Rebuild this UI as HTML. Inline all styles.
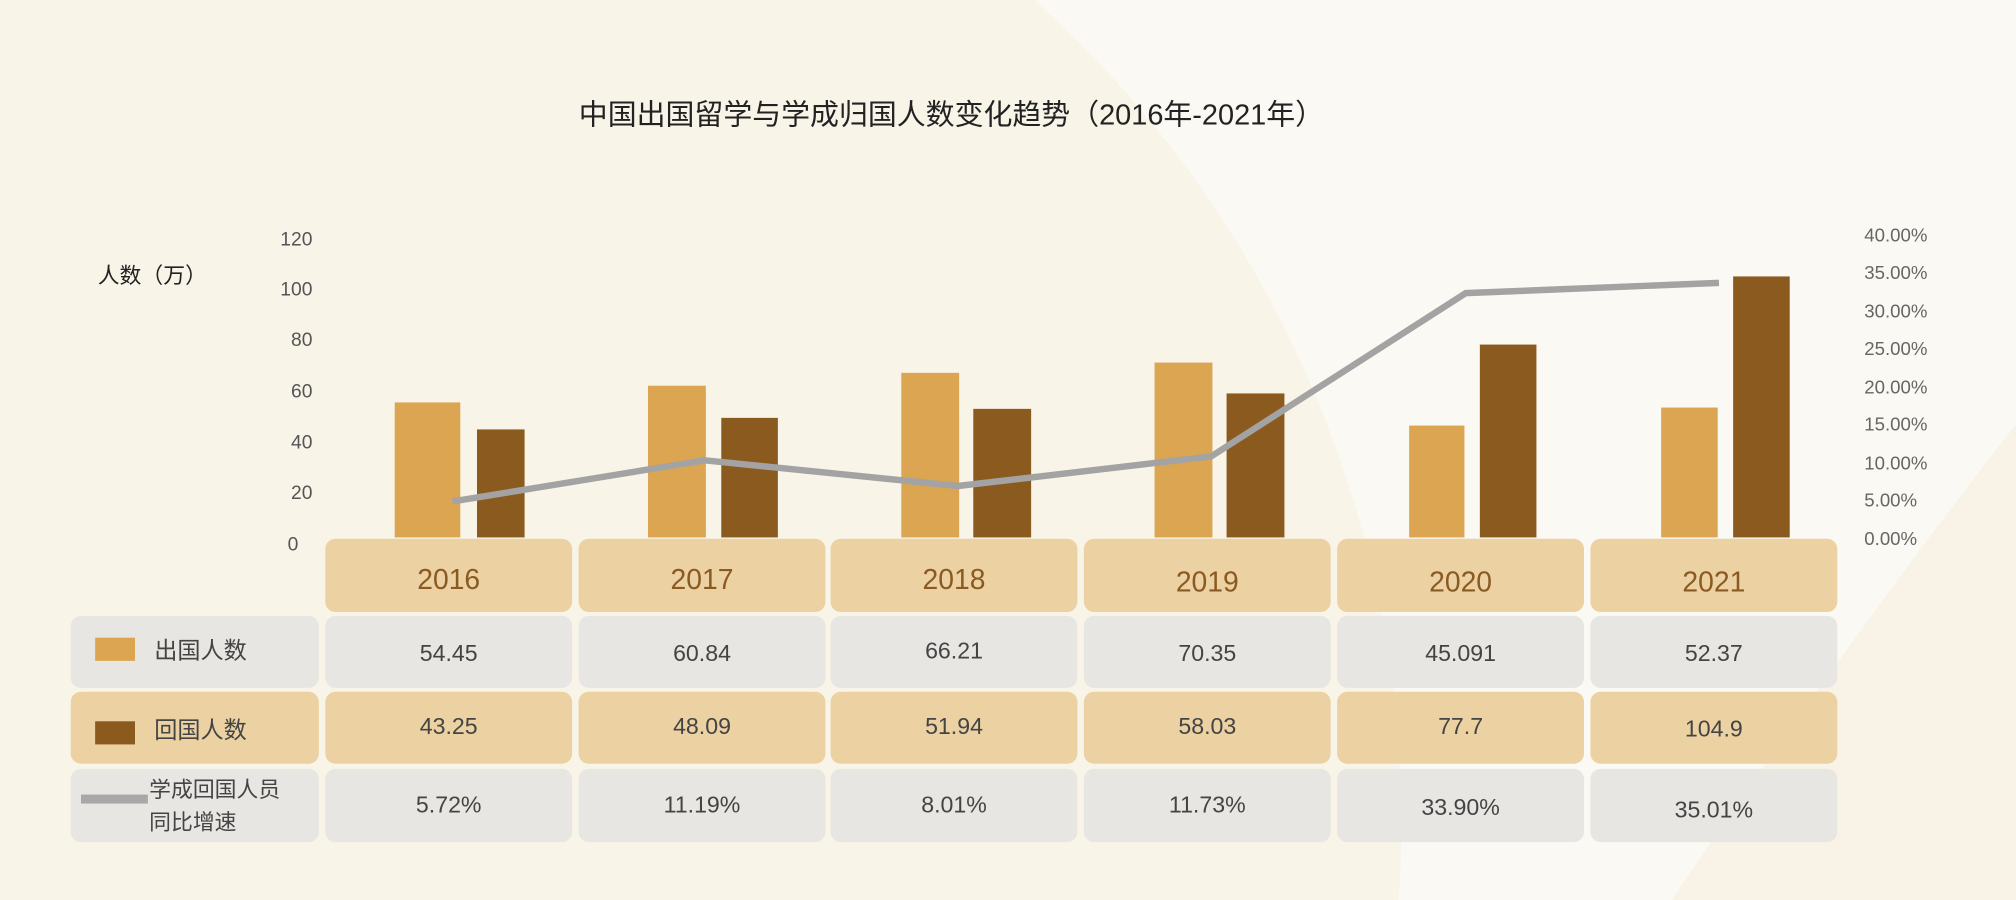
<!DOCTYPE html>
<html><head><meta charset="utf-8"><style>
html,body{margin:0;padding:0;background:#f8f4e8;width:2016px;height:900px;overflow:hidden;}
svg{display:block}
text{font-family:"Liberation Sans","Noto Sans CJK SC",sans-serif;}
</style></head><body>
<svg width="2016" height="900" viewBox="0 0 1568 700" xmlns="http://www.w3.org/2000/svg">
<rect width="1568" height="700" fill="#fbf9f3"/>
<circle cx="230" cy="640" r="860" fill="#f8f4e8"/>
<path d="M1300 700 Q1450 480 1568 330 L1568 700 Z" fill="#f8f3e6"/>
<text x="740" y="97" font-size="22.5" fill="#222" text-anchor="middle">中国出国留学与学成归国人数变化趋势（2016年-2021年）</text>
<text x="76" y="220" font-size="17" fill="#222">人数（万）</text>
<g font-size="15" fill="#555" text-anchor="end">
<text x="243" y="191">120</text><text x="243" y="230">100</text><text x="243" y="269">80</text>
<text x="243" y="309">60</text><text x="243" y="349">40</text><text x="243" y="388">20</text><text x="232" y="428">0</text>
</g>
<g font-size="14.5" fill="#666">
<text x="1450" y="188">40.00%</text><text x="1450" y="217">35.00%</text><text x="1450" y="247">30.00%</text>
<text x="1450" y="276">25.00%</text><text x="1450" y="306">20.00%</text><text x="1450" y="335">15.00%</text>
<text x="1450" y="365">10.00%</text><text x="1450" y="394">5.00%</text><text x="1450" y="424">0.00%</text>
</g>
<g fill="#dca552">
<rect x="307" y="313" width="51" height="105"/>
<rect x="504" y="300" width="45" height="118"/>
<rect x="701" y="290" width="45" height="128"/>
<rect x="898" y="282" width="45" height="136"/>
<rect x="1096" y="331" width="43" height="87"/>
<rect x="1292" y="317" width="44" height="101"/>
</g>
<g fill="#8b5a1f">
<rect x="371" y="334" width="37" height="84"/>
<rect x="561" y="325" width="44" height="93"/>
<rect x="757" y="318" width="45" height="100"/>
<rect x="954" y="306" width="45" height="112"/>
<rect x="1151" y="268" width="44" height="150"/>
<rect x="1348" y="215" width="44" height="203"/>
</g>
<polyline points="352,390 548,358 745,378 942,355 1140,228 1337,220" fill="none" stroke="#a3a3a3" stroke-width="5" stroke-linejoin="round"/>
<g>
<rect x="253" y="419" width="192" height="57" rx="8" fill="#ecd1a2"/>
<rect x="450" y="419" width="192" height="57" rx="8" fill="#ecd1a2"/>
<rect x="646" y="419" width="192" height="57" rx="8" fill="#ecd1a2"/>
<rect x="843" y="419" width="192" height="57" rx="8" fill="#ecd1a2"/>
<rect x="1040" y="419" width="192" height="57" rx="8" fill="#ecd1a2"/>
<rect x="1237" y="419" width="192" height="57" rx="8" fill="#ecd1a2"/>
</g>
<g font-size="22" fill="#8a5a22" text-anchor="middle">
<text x="349" y="458">2016</text><text x="546" y="458">2017</text><text x="742" y="458">2018</text>
<text x="939" y="460">2019</text><text x="1136" y="460">2020</text><text x="1333" y="460">2021</text>
</g>
<g fill="#e8e6e2">
<rect x="55" y="479" width="193" height="56" rx="8"/>
<rect x="253" y="479" width="192" height="56" rx="8"/><rect x="450" y="479" width="192" height="56" rx="8"/>
<rect x="646" y="479" width="192" height="56" rx="8"/><rect x="843" y="479" width="192" height="56" rx="8"/>
<rect x="1040" y="479" width="192" height="56" rx="8"/><rect x="1237" y="479" width="192" height="56" rx="8"/>
<rect x="55" y="598" width="193" height="57" rx="8"/>
<rect x="253" y="598" width="192" height="57" rx="8"/><rect x="450" y="598" width="192" height="57" rx="8"/>
<rect x="646" y="598" width="192" height="57" rx="8"/><rect x="843" y="598" width="192" height="57" rx="8"/>
<rect x="1040" y="598" width="192" height="57" rx="8"/><rect x="1237" y="598" width="192" height="57" rx="8"/>
</g>
<g fill="#ecd1a2">
<rect x="55" y="538" width="193" height="56" rx="8"/>
<rect x="253" y="538" width="192" height="56" rx="8"/><rect x="450" y="538" width="192" height="56" rx="8"/>
<rect x="646" y="538" width="192" height="56" rx="8"/><rect x="843" y="538" width="192" height="56" rx="8"/>
<rect x="1040" y="538" width="192" height="56" rx="8"/><rect x="1237" y="538" width="192" height="56" rx="8"/>
</g>
<rect x="74" y="496" width="31" height="18" fill="#dca552"/>
<rect x="74" y="561" width="31" height="18" fill="#8b5a1f"/>
<rect x="63" y="618" width="52" height="7" fill="#a8a8a8"/>
<g font-size="18" fill="#444">
<text x="120" y="512">出国人数</text>
<text x="120" y="574">回国人数</text>
<text x="116" y="620" font-size="17">学成回国人员</text>
<text x="116" y="645" font-size="17">同比增速</text>
</g>
<g font-size="18" fill="#444" text-anchor="middle">
<text x="349" y="514">54.45</text><text x="546" y="514">60.84</text><text x="742" y="512">66.21</text>
<text x="939" y="514">70.35</text><text x="1136" y="514">45.091</text><text x="1333" y="514">52.37</text>
<text x="349" y="571">43.25</text><text x="546" y="571">48.09</text><text x="742" y="571">51.94</text>
<text x="939" y="571">58.03</text><text x="1136" y="571">77.7</text><text x="1333" y="573">104.9</text>
<text x="349" y="632">5.72%</text><text x="546" y="632">11.19%</text><text x="742" y="632">8.01%</text>
<text x="939" y="632">11.73%</text><text x="1136" y="634">33.90%</text><text x="1333" y="636">35.01%</text>
</g>
</svg>
</body></html>
